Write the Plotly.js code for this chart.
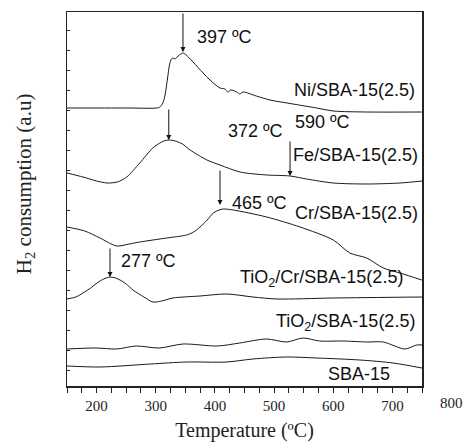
<!DOCTYPE html>
<html><head><meta charset="utf-8">
<script src="https://cdn.plot.ly/plotly-3.0.1.min.js"></script>
<style>html,body{margin:0;padding:0;background:#fff}#c{width:466px;height:443px}</style>
</head><body><div id="c"></div>
<script>
// Temperature (ºC) and stacked H2 consumption (a.u., offset per curve)
const niT = [150,250,302,307,312,316,320,323.5,326.5,329,332.5,336,340,346.6,355,363,380,391.7,408.6,417,422,427,437,442,447.5,470,493,522,572,600,656.5,749.5];
const niY = [278,278,278,279,283,292,308,322,327,328,327,329,331,333,329,324,313,306,298,297,294,296,294,292,294,290,286,283,278,275,274,274];
const feT = [150,177,200,217.6,235,251,273,295,310,320.7,333,345,358,386.6,408.6,442.4,487.5,527,555,600,657,713,750];
const feY = [213,209,205,203,204,209,223,238,244,246,245,242,236,226,221,214,211,210,207,203,202,203,205];
const crT = [150,180,205.8,234,255,273,318.5,352,364,374.8,387,397.3,407,414,431,487.5,543.8,600,628,656.5,684.6,712.8,749.5];
const crY = [159,155,148,140,142,144,148,151,154,159,166,173,176,177,176,169,159,146,133,128,118,113,106];
const tcT = [150,165,177,190,200.7,212,222.7,232,239.6,250,261.5,280,295.3,310,329,374.8,420,464.4,505,600,750];
const tcY = [87,89,93,98,103,107,109,108,106,102,96,89,84,85,88,90,92,89,87,88,89];
const tiT = [150,199,234,267,306,346,404,442,487.5,521,549,577,616,657,684.6,721,741,750];
const tiY = [37,38,37,40,38,42,40,43,47,44,48,45,45,44,44,37,41,41];
const sbT = [150,206,291,352,420,464,521,572,645,701,750];
const sbY = [20,19,22,24,24,27,29,28,26,23,18];

const tickVals = [150,175,200,225,250,275,300,325,350,375,400,425,450,475,500,525,550,575,600,625,650,675,700,725,750];
const tickText = tickVals.map(v => (v % 100 === 0) ? String(v) : '');
const extraTick = '800';

const curveLabels = ['Ni/SBA-15(2.5)','Fe/SBA-15(2.5)','Cr/SBA-15(2.5)','TiO<sub>2</sub>/Cr/SBA-15(2.5)','TiO<sub>2</sub>/SBA-15(2.5)','SBA-15'];
const peakLabels = ['397 ºC','372 ºC','590 ºC','465 ºC','277 ºC'];
const arrowX = [346,322,527,408.6,222.7];
const arrowHead = [334,246,210,181,109];
const arrowTail = [374,278,246,217,139];

const ln = {color:'#1a1a1a', width:1, shape:'spline', smoothing:0.8};
const mk = (x,y) => ({x:x, y:y, type:'scatter', mode:'lines', line:ln, showlegend:false, hoverinfo:'skip'});
const data = [mk(niT,niY), mk(feT,feY), mk(crT,crY), mk(tcT,tcY), mk(tiT,tiY), mk(sbT,sbY)];

const serif = 'Liberation Serif, Times New Roman, serif';
const sans = {family:'Liberation Sans, Arial, sans-serif', size:18, color:'#111'};
const ann = [];
const labPos = [[741.5,296],[746.6,231],[746.6,173],[721,108],[741.5,64],[699,12]];
curveLabels.forEach((t,i)=>ann.push({x:labPos[i][0], y:labPos[i][1], xref:'x', yref:'y', text:t, showarrow:false, xanchor:'right', yanchor:'middle', font:sans}));
const peakPos = [[366,349],[418.7,255],[532,264],[425.5,183],[238,125]];
peakLabels.forEach((t,i)=>ann.push({x:peakPos[i][0], y:peakPos[i][1], xref:'x', yref:'y', text:t, showarrow:false, xanchor:'left', yanchor:'middle', font:sans}));
arrowX.forEach((x,i)=>ann.push({x:x, y:arrowHead[i], ax:x, ay:arrowTail[i], xref:'x', yref:'y', axref:'x', ayref:'y', text:'', showarrow:true, arrowhead:2, arrowsize:1, arrowwidth:1, arrowcolor:'#111'}));
ann.push({x:(800-150)/600, y:0, xref:'paper', yref:'paper', yshift:-17, text:extraTick, showarrow:false, xanchor:'center', yanchor:'middle', font:{family:serif, size:15, color:'#222'}});
// y axis title placed as in the reference (slightly above centre)
ann.push({x:-0.118, y:0.54, xref:'paper', yref:'paper', text:'H<sub>2</sub> consumption (a.u)', textangle:-90, showarrow:false, xanchor:'center', yanchor:'middle', font:{family:serif, size:21, color:'#222'}});

const layout = {
  width:466, height:443,
  margin:{l:67, r:44, t:12, b:57},
  paper_bgcolor:'#fff', plot_bgcolor:'#fff',
  font:{family:serif, color:'#222'},
  xaxis:{range:[150,750], tickmode:'array', tickvals:tickVals, ticktext:tickText, ticks:'outside', ticklen:5, tickwidth:1, tickcolor:'#222',
    showline:true, linecolor:'#222', linewidth:1.5, mirror:true, showgrid:false, zeroline:false,
    tickfont:{family:serif, size:15, color:'#222'},
    title:{text:'Temperature (ºC)', font:{family:serif, size:20, color:'#222'}, standoff:10}},
  yaxis:{range:[0,374], showticklabels:false, ticks:'inside', ticklen:3, tickwidth:1, tickcolor:'#222', tick0:15.3, dtick:20,
    showline:true, linecolor:'#222', linewidth:1.5, mirror:true, showgrid:false, zeroline:false},
  yaxis2:{range:[0,374], overlaying:'y', side:'right', showticklabels:false, ticks:'outside', ticklen:3, tickwidth:1, tickcolor:'#222', tick0:14.3, dtick:13.33,
    showline:false, showgrid:false, zeroline:false},
  annotations:ann
};
Plotly.newPlot('c', data, layout, {staticPlot:true, displayModeBar:false});
</script></body></html>
